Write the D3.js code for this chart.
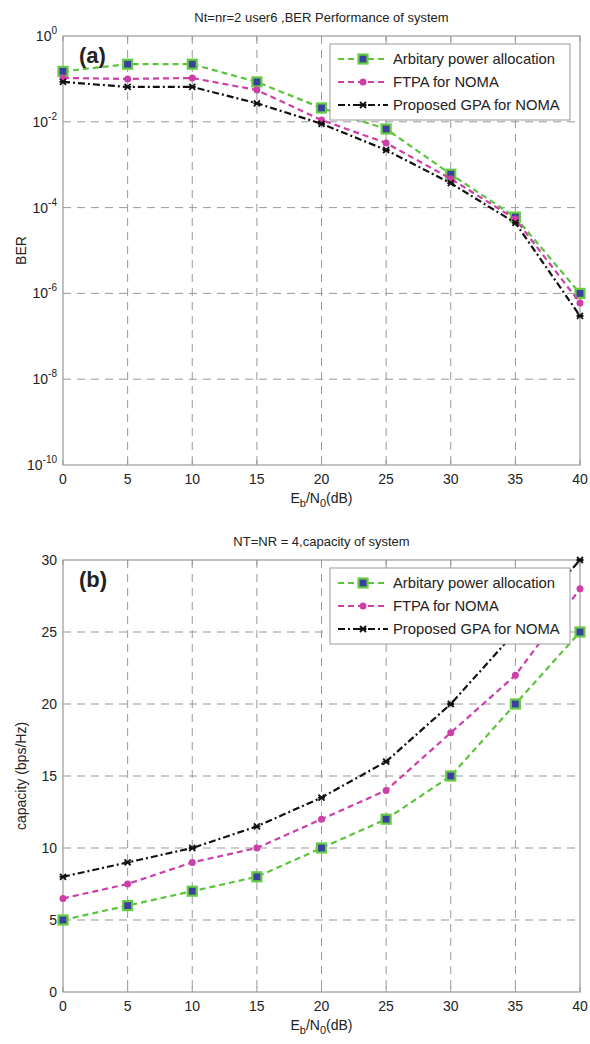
<!DOCTYPE html>
<html>
<head>
<meta charset="utf-8">
<script src="https://cdn.jsdelivr.net/npm/d3@7"></script>
<style>
body { margin: 0; background: #fff; }
text { font-family: "Liberation Sans", Arial, sans-serif; fill: #222; }
</style>
</head>
<body>
<div id="root"></div>
<script>
const W = 590, H = 1044;
const snr = [0, 5, 10, 15, 20, 25, 30, 35, 40];
const seriesNames = ["Arbitary power allocation", "FTPA for NOMA", "Proposed GPA for NOMA"];
// panel (a) BER
const berArb = [0.15, 0.22, 0.22, 0.085, 0.021, 0.0068, 6e-4, 6e-5, 1e-6];
const berFtpa = [0.105, 0.1, 0.105, 0.055, 0.011, 0.0032, 4.7e-4, 5.4e-5, 6e-7];
const berGpa = [0.085, 0.065, 0.065, 0.027, 0.009, 0.0022, 3.7e-4, 4.4e-5, 3e-7];
const berTicks = [0, -2, -4, -6, -8, -10];
// panel (b) capacity
const capArb = [5, 6, 7, 8, 10, 12, 15, 20, 25];
const capFtpa = [6.5, 7.5, 9, 10, 12, 14, 18, 22, 28];
const capGpa = [8, 9, 10, 11.5, 13.5, 16, 20, 25, 30];
const capTicks = [0, 5, 10, 15, 20, 25, 30];

const styles = [
  {color: "#5cc43c", dash: "6,4", marker: "square"},
  {color: "#cc3fa8", dash: "6,4", marker: "circle"},
  {color: "#111", dash: "7,3,2,3", marker: "star"}
];

const svg = d3.select('#root').append('svg').attr('width', W).attr('height', H);

function marker(g, type, x, y, color) {
  if (type === "square") {
    g.append('rect').attr('x', x - 4.5).attr('y', y - 4.5).attr('width', 9).attr('height', 9)
      .attr('fill', '#3a3fa0').attr('stroke', '#66cc44').attr('stroke-width', 2.2);
  } else if (type === "circle") {
    g.append('circle').attr('cx', x).attr('cy', y).attr('r', 3.5).attr('fill', color);
  } else {
    const s = 3;
    g.append('path').attr('d', `M${x-s},${y-s}L${x+s},${y+s}M${x-s},${y+s}L${x+s},${y-s}M${x-s-0.5},${y}L${x+s+0.5},${y}`)
      .attr('stroke', color).attr('stroke-width', 1.8);
  }
}

function panel(opt) {
  const {top, bottom, left, right, y, yTickVals, yTickFmt, data, title, tag, ylabel} = opt;
  const x = d3.scaleLinear().domain([0, 40]).range([left, right]);
  const g = svg.append('g');
  // grid
  snr.slice(1, -1).forEach(v => {
    g.append('line').attr('x1', x(v)).attr('x2', x(v)).attr('y1', top).attr('y2', bottom)
      .attr('stroke', '#999').attr('stroke-dasharray', '8,6').attr('stroke-width', 1);
  });
  yTickVals.slice(1, -1).forEach(v => {
    g.append('line').attr('x1', left).attr('x2', right).attr('y1', y(v)).attr('y2', y(v))
      .attr('stroke', '#999').attr('stroke-dasharray', '8,6').attr('stroke-width', 1);
  });
  // box
  g.append('rect').attr('x', left).attr('y', top).attr('width', right - left).attr('height', bottom - top)
    .attr('fill', 'none').attr('stroke', '#999').attr('stroke-width', 1.2);
  // tick marks inside
  snr.forEach(v => {
    g.append('line').attr('x1', x(v)).attr('x2', x(v)).attr('y1', bottom).attr('y2', bottom - 5).attr('stroke', '#999');
    g.append('line').attr('x1', x(v)).attr('x2', x(v)).attr('y1', top).attr('y2', top + 5).attr('stroke', '#999');
  });
  // x tick labels
  snr.forEach(v => {
    g.append('text').attr('x', x(v)).attr('y', bottom + 19).attr('text-anchor', 'middle')
      .attr('font-size', 14).text(v);
  });
  // y tick labels
  yTickVals.forEach(v => yTickFmt(g, left - 6, y(v), v));
  // x label
  const xl = g.append('text').attr('x', (left + right) / 2).attr('y', bottom + 38)
    .attr('text-anchor', 'middle').attr('font-size', 14);
  xl.append('tspan').text('E');
  xl.append('tspan').attr('dy', 4).attr('font-size', 11).text('b');
  xl.append('tspan').attr('dy', -4).text('/N');
  xl.append('tspan').attr('dy', 4).attr('font-size', 11).text('0');
  xl.append('tspan').attr('dy', -4).text('(dB)');
  // y label
  g.append('text').attr('transform', `translate(26,${(top + bottom) / 2}) rotate(-90)`)
    .attr('text-anchor', 'middle').attr('font-size', 14).text(ylabel);
  // title
  g.append('text').attr('x', (left + right) / 2).attr('y', top - 14).attr('text-anchor', 'middle')
    .attr('font-size', 13).text(title);
  // series
  data.forEach((vals, i) => {
    const st = styles[i];
    const line = d3.line().x((d, j) => x(snr[j])).y(d => y(d));
    g.append('path').datum(vals).attr('d', line).attr('fill', 'none')
      .attr('stroke', st.color).attr('stroke-width', 2.2).attr('stroke-dasharray', st.dash);
    vals.forEach((v, j) => marker(g, st.marker, x(snr[j]), y(v), st.color));
  });
  // tag
  g.append('text').attr('x', left + 16).attr('y', top + 27).attr('font-size', 22)
    .attr('font-weight', 'bold').text(tag);
  // legend
  const lx = 330, ly = top + 8, lw = 240, lh = 76;
  const lg = g.append('g');
  lg.append('rect').attr('x', lx).attr('y', ly).attr('width', lw).attr('height', lh)
    .attr('fill', '#fff').attr('stroke', '#999').attr('stroke-width', 1);
  seriesNames.forEach((name, i) => {
    const st = styles[i];
    const yy = ly + 15 + i * 23;
    lg.append('line').attr('x1', lx + 8).attr('x2', lx + 58).attr('y1', yy).attr('y2', yy)
      .attr('stroke', st.color).attr('stroke-width', 2.2).attr('stroke-dasharray', st.dash);
    marker(lg, st.marker, lx + 33, yy, st.color);
    lg.append('text').attr('x', lx + 63).attr('y', yy + 5).attr('font-size', 14.8).text(name);
  });
}

// panel (a)
const yA = d3.scaleLog().domain([1e-10, 1]).range([465, 36]);
panel({
  top: 36, bottom: 465, left: 63, right: 580,
  y: yA, yTickVals: berTicks.map(e => Math.pow(10, e)),
  yTickFmt: (g, xx, yy, v) => {
    const t = g.append('text').attr('x', xx).attr('y', yy + 5).attr('text-anchor', 'end').attr('font-size', 14);
    t.append('tspan').text('10');
    t.append('tspan').attr('dy', -7).attr('font-size', 10).text(Math.round(Math.log10(v)));
  },
  data: [berArb, berFtpa, berGpa],
  title: "Nt=nr=2 user6 ,BER Performance of system", tag: "(a)", ylabel: "BER"
});

// panel (b)
const yB = d3.scaleLinear().domain([0, 30]).range([992, 560]);
panel({
  top: 560, bottom: 992, left: 63, right: 580,
  y: yB, yTickVals: capTicks,
  yTickFmt: (g, xx, yy, v) => {
    g.append('text').attr('x', xx).attr('y', yy + 5).attr('text-anchor', 'end').attr('font-size', 14).text(v);
  },
  data: [capArb, capFtpa, capGpa],
  title: "NT=NR = 4,capacity of system", tag: "(b)", ylabel: "capacity (bps/Hz)"
});
</script>
</body>
</html>
